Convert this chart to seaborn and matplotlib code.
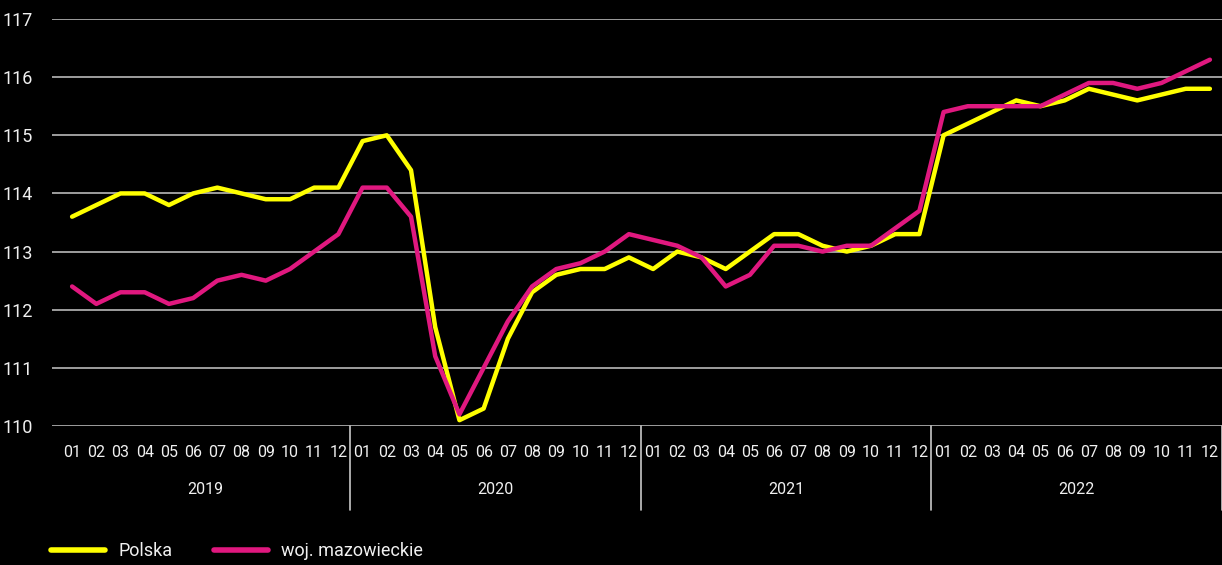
import pandas as pd
import matplotlib.pyplot as plt
import numpy as np
import seaborn as sns

# monthly index values 2019-01 .. 2022-12
years = ['2019', '2020', '2021', '2022']
months = ['01', '02', '03', '04', '05', '06', '07', '08', '09', '10', '11', '12']

polska = [
    113.6, 113.8, 114.0, 114.0, 113.8, 114.0, 114.1, 114.0, 113.9, 113.9, 114.1, 114.1,
    114.9, 115.0, 114.4, 111.7, 110.1, 110.3, 111.5, 112.3, 112.6, 112.7, 112.7, 112.9,
    112.7, 113.0, 112.9, 112.7, 113.0, 113.3, 113.3, 113.1, 113.0, 113.1, 113.3, 113.3,
    115.0, 115.2, 115.4, 115.6, 115.5, 115.6, 115.8, 115.7, 115.6, 115.7, 115.8, 115.8,
]
mazowieckie = [
    112.4, 112.1, 112.3, 112.3, 112.1, 112.2, 112.5, 112.6, 112.5, 112.7, 113.0, 113.3,
    114.1, 114.1, 113.6, 111.2, 110.2, 111.0, 111.8, 112.4, 112.7, 112.8, 113.0, 113.3,
    113.2, 113.1, 112.9, 112.4, 112.6, 113.1, 113.1, 113.0, 113.1, 113.1, 113.4, 113.7,
    115.4, 115.5, 115.5, 115.5, 115.5, 115.7, 115.9, 115.9, 115.8, 115.9, 116.1, 116.3,
]
series_names = ['Polska', 'woj. mazowieckie']
colors = ['#ffff00', '#e0187f']


def build_frame():
    n = len(polska)
    df = pd.DataFrame({
        'idx': list(range(n)) * 2,
        'value': polska + mazowieckie,
        'series': [series_names[0]] * n + [series_names[1]] * n,
    })
    return df


def main():
    sns.set_theme(style='dark')
    plt.rcParams['font.family'] = ['Roboto', 'DejaVu Sans']
    fg = '#f0f0f0'

    fig = plt.figure(figsize=(12.22, 5.65), dpi=100, facecolor='black')
    ax = fig.add_axes([52 / 1222, 1 - 426 / 565, 1 - 52 / 1222, (426 - 19) / 565])
    ax.set_facecolor('black')

    df = build_frame()
    sns.lineplot(data=df, x='idx', y='value', hue='series', palette=colors,
                 linewidth=3.2, ax=ax, legend=False, zorder=3)

    ax.set_ylim(110, 117)
    ax.set_yticks(range(110, 118))
    ax.set_xlim(-0.83, 47.5)
    ax.grid(axis='y', color='#c8c8c8', linewidth=1.1)
    ax.grid(axis='x', visible=False)
    for s in ax.spines.values():
        s.set_visible(False)

    ax.set_xticks(range(len(polska)))
    ax.set_xticklabels(months * len(years))
    ax.tick_params(axis='x', length=0, pad=14, labelsize=11.5, colors=fg)
    ax.tick_params(axis='y', length=0, pad=14, labelsize=13, colors=fg)
    for lab in ax.get_yticklabels():
        lab.set_horizontalalignment('right')
    ax.set_xlabel('')
    ax.set_ylabel('')

    # year labels and separators below the axis
    for i, y in enumerate(years):
        ax.text(i * 12 + 5.5, -0.155, y, transform=ax.get_xaxis_transform(),
                ha='center', va='center', fontsize=11.5, color=fg)
        if i > 0:
            ax.axvline(i * 12 - 0.5, ymin=-0.206, ymax=0, color='#c8c8c8',
                       linewidth=1.2, clip_on=False)
    ax.axvline(47.5, ymin=-0.206, ymax=0, color='#c8c8c8', linewidth=1.2, clip_on=False)

    handles = [plt.Line2D([], [], color=c, linewidth=4, solid_capstyle='round') for c in colors]
    leg = fig.legend(handles, series_names, loc='center left', bbox_to_anchor=(0.042, 0.024),
                     ncol=2, frameon=False, fontsize=13, handlelength=3.0,
                     columnspacing=2.3, handletextpad=0.7, borderpad=0, borderaxespad=0)
    for t in leg.get_texts():
        t.set_color(fg)

    fig.savefig('out.png', dpi=100, facecolor='black')


if __name__ == "__main__":
    main()
